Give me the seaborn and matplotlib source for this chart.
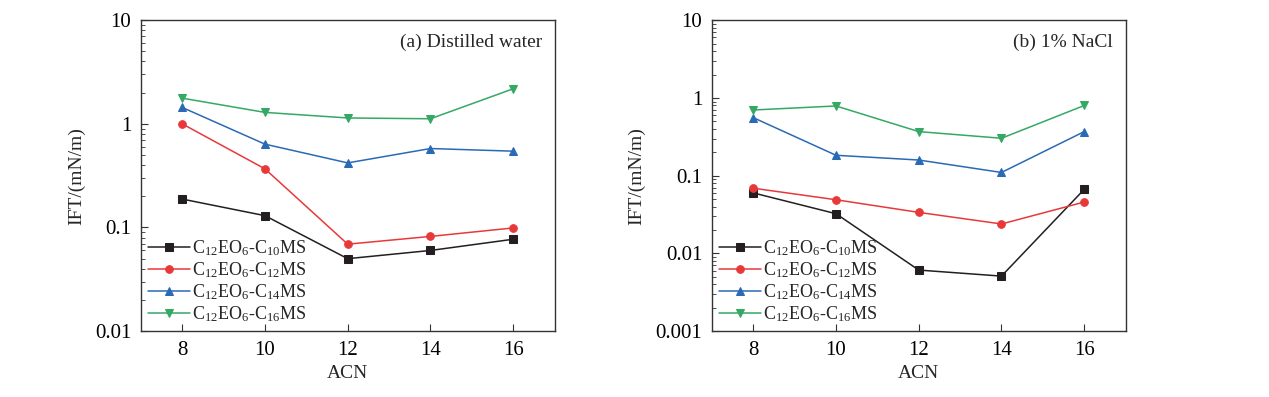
import pandas as pd
import seaborn as sns
import matplotlib.pyplot as plt

# ACN values (x axis)
acn = [8, 10, 12, 14, 16]

series_names = [r'C$_{12}$EO$_6$-C$_{10}$MS', r'C$_{12}$EO$_6$-C$_{12}$MS',
                r'C$_{12}$EO$_6$-C$_{14}$MS', r'C$_{12}$EO$_6$-C$_{16}$MS']

# IFT values, (a) distilled water
water_c10 = [0.188, 0.130, 0.050, 0.060, 0.077]
water_c12 = [1.00, 0.368, 0.069, 0.082, 0.099]
water_c14 = [1.44, 0.637, 0.420, 0.578, 0.545]
water_c16 = [1.77, 1.29, 1.14, 1.12, 2.18]

# (b) 1% NaCl
nacl_c10 = [0.060, 0.0324, 0.0061, 0.0051, 0.0667]
nacl_c12 = [0.069, 0.049, 0.0337, 0.0239, 0.0458]
nacl_c14 = [0.558, 0.183, 0.159, 0.110, 0.369]
nacl_c16 = [0.70, 0.789, 0.369, 0.303, 0.80]

colors = ['#231f20', '#e8393a', '#2a6ab5', '#35a865']
markers = ['s', 'o', '^', 'v']

sns.set_style('ticks')
plt.rcParams['font.family'] = ['Liberation Serif', 'DejaVu Serif']
plt.rcParams['mathtext.default'] = 'regular'
plt.rcParams['font.size'] = 13

fig = plt.figure(figsize=(12.69, 3.97), dpi=100)
ax1 = fig.add_axes([0.111, 0.166, 0.326, 0.783])
ax2 = fig.add_axes([0.561, 0.166, 0.326, 0.783])

panels = [
    (ax1, [water_c10, water_c12, water_c14, water_c16], (0.01, 10), '(a) Distilled water'),
    (ax2, [nacl_c10, nacl_c12, nacl_c14, nacl_c16], (0.001, 10), '(b) 1% NaCl'),
]

for ax, values, ylim, title in panels:
    for name, vals, c, m in zip(series_names, values, colors, markers):
        df = pd.DataFrame({'ACN': acn, 'IFT': vals})
        sns.lineplot(data=df, x='ACN', y='IFT', ax=ax, color=c, marker=m,
                     markersize=5.5, markeredgecolor=c, linewidth=1.1, label=name)
    ax.set_yscale('log')
    ax.set_ylim(*ylim)
    ax.set_xlim(7, 17)
    ax.set_xticks(acn)
    ax.yaxis.set_major_formatter(plt.FuncFormatter(lambda v, p: f'{v:g}'))
    ax.tick_params(which='both', direction='in', labelsize=15, colors='#333333',
                   labelcolor='black')
    ax.tick_params(which='major', length=5)
    ax.tick_params(which='minor', length=3)
    ax.tick_params(axis='y', pad=7)
    ax.tick_params(axis='x', pad=7)
    ax.xaxis.set_minor_locator(plt.NullLocator())
    for s in ax.spines.values():
        s.set_color('#333333')
        s.set_linewidth(1.0)
    ax.set_xlabel('ACN', fontsize=14, labelpad=4)
    ax.set_ylabel('IFT/(mN/m)', fontsize=14, labelpad=7)
    ax.text(0.97, 0.93, title, transform=ax.transAxes, ha='right', va='center',
            fontsize=14)
    ax.legend(loc='lower left', frameon=False, fontsize=13, handlelength=2.3,
              handletextpad=0.15, labelspacing=0.12, borderaxespad=0.1,
              borderpad=0.3)

fig.savefig('out.png', dpi=100)
